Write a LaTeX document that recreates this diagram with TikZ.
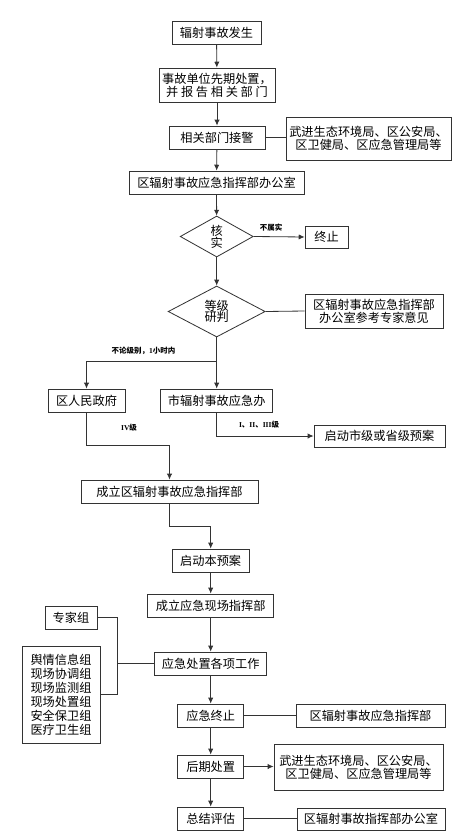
\documentclass[tikz,border=0pt]{standalone}
\usepackage{fontspec}
\setmainfont{Noto Sans CJK SC}
\newfontfamily\numfont{Liberation Serif}
\usetikzlibrary{arrows.meta,shapes.geometric}

\begin{document}
\begin{tikzpicture}[x=0.03cm, y=-0.03cm,
    box/.style={draw=black!80, line width=0.7pt, inner sep=0pt, minimum height=0.69cm,
                align=center, font=\fontsize{10.4}{11}\selectfont},
    dia/.style={draw=black!80, line width=0.7pt, diamond, inner sep=0pt, align=center,
                font=\fontsize{10.4}{10}\selectfont},
    arr/.style={draw=black!80, line width=0.7pt, -{Latex[length=5pt,width=4.5pt]}},
    ln/.style={draw=black!80, line width=0.7pt},
    lbl/.style={inner sep=0pt, font=\fontsize{6.4}{7}\selectfont\bfseries}
]
    \useasboundingbox (0,0) rectangle (471,838);

    % main flow, upper part
    \node[box, minimum width=2.67cm] (fs) at (216.5,33) {辐射事故发生};
    \node[box, minimum width=3.48cm, minimum height=1.02cm] (xq) at (217,85)
        {事故单位先期处置，\\并 报 告 相 关 部 门};
    \node[box, minimum width=2.88cm] (jj) at (217,137.5) {相关部门接警};
    \node[box, minimum width=4.95cm, minimum height=1.29cm] (jjr) at (368.5,138.5)
        {武进生态环境局、区公安局、\\区卫健局、区应急管理局等};
    \node[box, minimum width=5.25cm] (bgs) at (216.5,182.5) {区辐射事故应急指挥部办公室};
    \node[dia, minimum width=2.19cm, minimum height=1.23cm] (hs) at (216.7,236.5) {核\\实};
    \node[box, minimum width=1.29cm, minimum height=0.66cm] (zz) at (326.5,237) {终止};
    \node[dia, minimum width=2.91cm, minimum height=1.53cm] (yp) at (216.7,311.5) {等级\\研判};
    \node[box, minimum width=4.14cm, minimum height=1.02cm] (ypr) at (374,311)
        {区辐射事故应急指挥部\\办公室参考专家意见};

    % reporting branches
    \coordinate (fk) at (216.7,361);
    \node[box, minimum width=2.31cm] (rmzf) at (86.5,400.5) {区人民政府};
    \node[box, minimum width=3.36cm] (sbf) at (216.7,400.5) {市辐射事故应急办};
    \node[box, minimum width=3.93cm, minimum height=0.66cm] (sj) at (379.5,436) {启动市级或省级预案};
    \node[box, minimum width=5.31cm] (clq) at (169.5,491.5) {成立区辐射事故应急指挥部};

    % main flow, lower part
    \node[box, minimum width=2.31cm] (ba) at (210.7,560.5) {启动本预案};
    \node[box, minimum width=3.78cm] (xc) at (210.7,605.5) {成立应急现场指挥部};
    \node[box, minimum width=3.36cm] (gz) at (210.7,663.5) {应急处置各项工作};
    \node[box, minimum width=1.98cm] (zzz) at (210.7,715.5) {应急终止};
    \node[box, minimum width=1.98cm] (hq) at (210.7,766.5) {后期处置};
    \node[box, minimum width=1.98cm] (pg) at (210.7,818.5) {总结评估};

    % side boxes
    \node[box, minimum width=1.56cm] (zj) at (71,617.5) {专家组};
    \node[box, minimum width=2.34cm, minimum height=2.91cm, font=\fontsize{10.4}{11.9}\selectfont] (zu) at (61,694.5)
        {舆情信息组\\现场协调组\\现场监测组\\现场处置组\\安全保卫组\\医疗卫生组};
    \node[box, minimum width=4.47cm] (zzr) at (370.5,715.5) {区辐射事故应急指挥部};
    \node[box, minimum width=5.07cm, minimum height=1.38cm] (hqr) at (358.5,767)
        {武进生态环境局、区公安局、\\区卫健局、区应急管理局等};
    \node[box, minimum width=4.44cm, minimum height=0.66cm] (pgr) at (371,819) {区辐射事故指挥部办公室};

    % labels
    \node[lbl] (lbs) at (271,228) {不属实};
    \node[lbl] (lbl1) at (143.5,351) {不论级别，{\numfont 1}小时内};
    \node[lbl] (lb4) at (129,428) {{\numfont IV}级};
    \node[lbl] (lb13) at (259,425) {{\numfont I}、{\numfont II}、{\numfont III}级};

    % connectors
    \draw[arr] (fs) -- (xq);
    \draw[arr] (xq) -- (jj);
    \draw[ln] (jj.east) -- (jj.east -| jjr.west);
    \draw[arr] (jj) -- (bgs);
    \draw[arr] (bgs) -- (hs);
    \draw[arr] (hs.east) -- (zz.west);
    \draw[arr] (hs) -- (yp);
    \draw[ln] (yp.east) -- (ypr.west);
    \draw[arr] (yp) -- (sbf);
    \draw[arr] (fk) -| (rmzf.north);
    \draw[arr] (rmzf.south) -- ++(0,33) -| (clq.north);
    \draw[arr] (sbf.south) |- (sj.west);
    \draw[arr] (clq.south) -- ++(0,23) -| (ba.north);
    \draw[arr] (ba) -- (xc);
    \draw[arr] (xc) -- (gz);
    \coordinate (br) at (117,663.5);
    \draw[ln] (zj.east) -| (br) -- (gz.west);
    \draw[ln] (zu.east) -| (br);
    \draw[arr] (gz) -- (zzz);
    \draw[ln] (zzz.east) -- (zzr.west);
    \draw[arr] (zzz) -- (hq);
    \draw[arr] (hq.east) -- (hq.east -| hqr.west);
    \draw[arr] (hq) -- (pg);
    \draw[ln] (pg.east) -- (pg.east -| pgr.west);
\end{tikzpicture}
\end{document}
